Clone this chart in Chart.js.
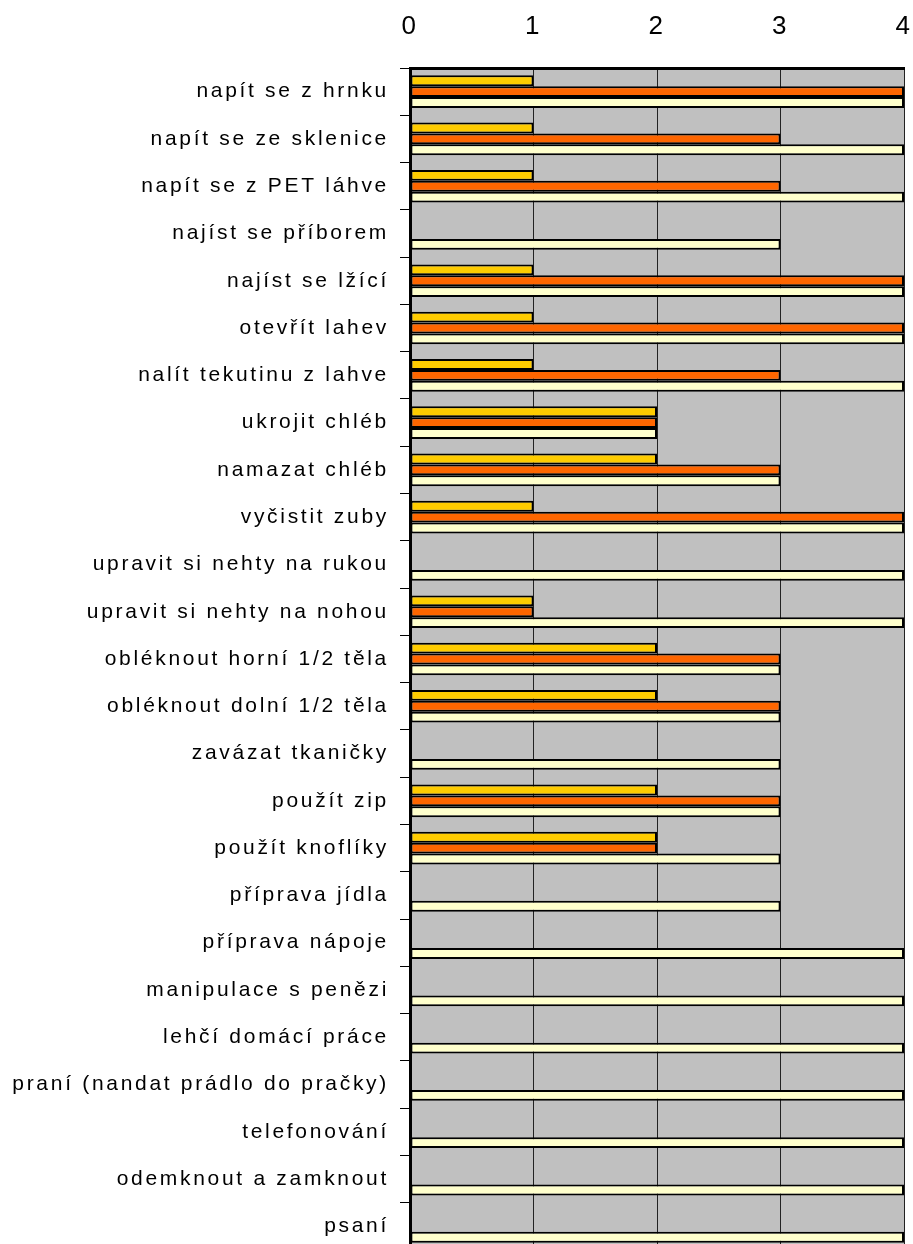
<!DOCTYPE html>
<html>
<head>
<meta charset="utf-8">
<script src="https://cdn.jsdelivr.net/npm/chart.js@4/dist/chart.umd.min.js"></script>
<style>
    html, body { margin: 0; padding: 0; background: #ffffff; overflow: hidden; }
    /* the original is cropped just above the bottom of the plot */
    #wrap { width: 913px; height: 1244px; overflow: hidden; }
</style>
</head>
<body>
<div id="wrap"><canvas id="activityChart" width="913" height="1250"></canvas></div>
<script>
// ========= data =========
const activities = [
    "napít se z hrnku",
    "napít se ze sklenice",
    "napít se z PET láhve",
    "najíst se příborem",
    "najíst se lžící",
    "otevřít lahev",
    "nalít tekutinu z lahve",
    "ukrojit chléb",
    "namazat chléb",
    "vyčistit zuby",
    "upravit si nehty na rukou",
    "upravit si nehty na nohou",
    "obléknout horní 1/2 těla",
    "obléknout dolní 1/2 těla",
    "zavázat tkaničky",
    "použít zip",
    "použít knoflíky",
    "příprava jídla",
    "příprava nápoje",
    "manipulace s penězi",
    "lehčí domácí práce",
    "praní (nandat prádlo do pračky)",
    "telefonování",
    "odemknout a zamknout",
    "psaní"
];

const seriesYellow = [1, 1, 1, 0, 1, 1, 1, 2, 2, 1, 0, 1, 2, 2, 0, 2, 2, 0, 0, 0, 0, 0, 0, 0, 0];
const seriesOrange = [4, 3, 3, 0, 4, 4, 3, 2, 3, 4, 0, 1, 3, 3, 0, 3, 2, 0, 0, 0, 0, 0, 0, 0, 0];
const seriesPale   = [4, 4, 4, 3, 4, 4, 4, 2, 3, 4, 4, 4, 3, 3, 3, 3, 3, 3, 4, 4, 4, 4, 4, 4, 4];

const xTicks = [0, 1, 2, 3, 4];

// gray plot area + Excel-like spaced lettering
const plotBackground = {
    id: "plotBackground",
    beforeDraw(chart) {
        const { ctx, chartArea } = chart;
        ctx.save();
        ctx.fillStyle = "#c0c0c0";
        ctx.fillRect(chartArea.left, chartArea.top,
                     chartArea.right - chartArea.left, chartArea.bottom - chartArea.top);
        ctx.restore();
        ctx.letterSpacing = "2.7px";
    }
};

// keep the plot box fixed: no extra room for edge labels
function noEdgePadding(scale) {
    scale.paddingLeft = 0;
    scale.paddingRight = 0;
    scale.paddingTop = 0;
    scale.paddingBottom = 0;
}

const FONT = "'Liberation Sans', Arial, sans-serif";

const ctx = document.getElementById("activityChart");

new Chart(ctx, {
    type: "bar",
    data: {
        labels: activities,
        datasets: [
            { data: seriesYellow, backgroundColor: "#ffcc00" },
            { data: seriesOrange, backgroundColor: "#ff6600" },
            { data: seriesPale,   backgroundColor: "#ffffcc" }
        ].map(d => Object.assign(d, {
            borderColor: "#000000",
            borderWidth: 2,
            borderSkipped: false,
            barPercentage: 1.0,
            categoryPercentage: 0.69
        }))
    },
    options: {
        indexAxis: "y",
        responsive: false,
        animation: false,
        layout: { padding: { left: 0, right: 9, top: 0, bottom: 0 } },
        plugins: {
            legend: { display: false },
            tooltip: { enabled: false }
        },
        scales: {
            x: {
                position: "top",
                min: 0,
                max: 4,
                afterBuildTicks: (scale) => { scale.ticks = xTicks.map(v => ({ value: v })); },
                afterFit: (scale) => { scale.height = 68; noEdgePadding(scale); },
                ticks: {
                    color: "#000000",
                    padding: 26,
                    font: { family: FONT, size: 26 }
                },
                grid: {
                    color: "#222222",
                    lineWidth: 1,
                    drawTicks: false
                },
                border: { display: true, color: "#000000", width: 3 }
            },
            y: {
                afterFit: (scale) => { scale.width = 410; noEdgePadding(scale); },
                ticks: {
                    color: "#000000",
                    padding: 11,
                    autoSkip: false,
                    font: { family: FONT, size: 21 }
                },
                grid: {
                    color: "#000000",
                    lineWidth: 1,
                    drawOnChartArea: false,
                    drawTicks: true,
                    tickLength: 10,
                    offset: true
                },
                border: { display: true, color: "#000000", width: 3 }
            }
        }
    },
    plugins: [plotBackground]
});
</script>
</body>
</html>
